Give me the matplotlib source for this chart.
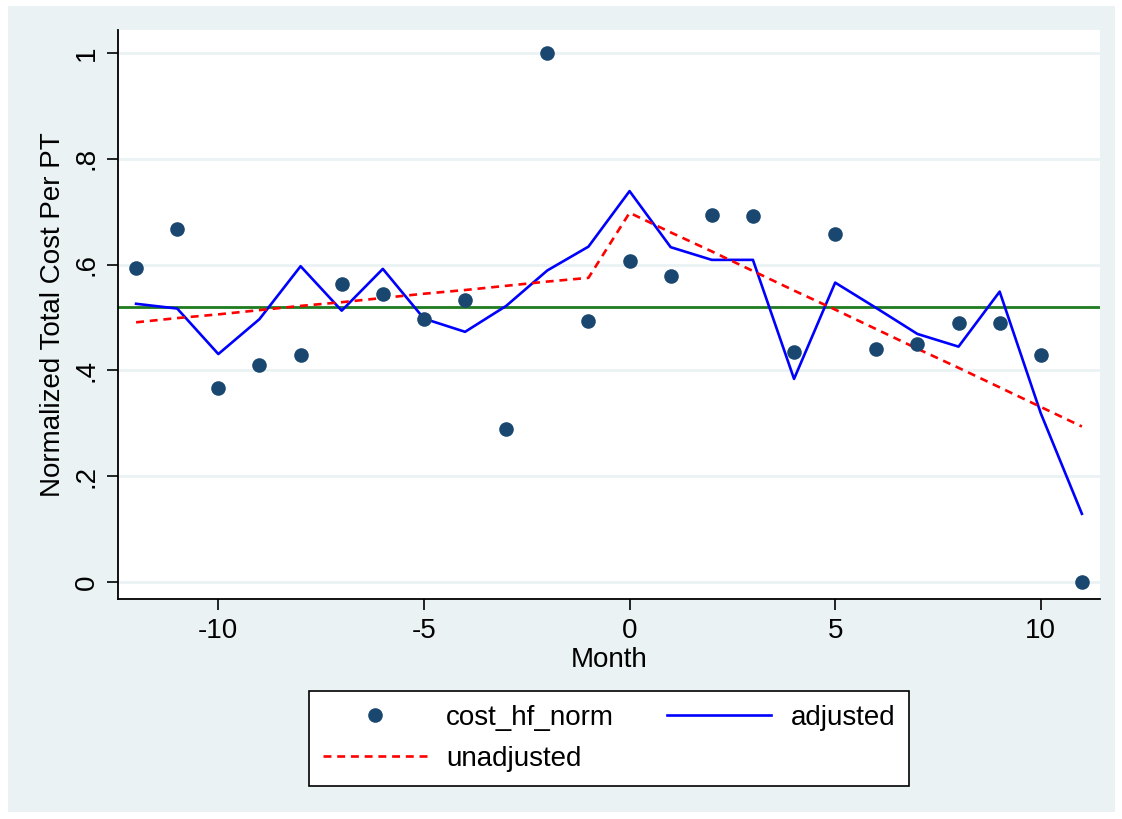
import matplotlib

matplotlib.use("Agg")
import matplotlib.patches as mpatches  # noqa: E402
import matplotlib.pyplot as plt  # noqa: E402

plt.rcParams["font.family"] = ["Liberation Sans", "DejaVu Sans"]

# data
MONTHS = list(range(-12, 12))
COST_HF_NORM = [0.594, 0.667, 0.367, 0.411, 0.430, 0.563, 0.544, 0.498, 0.534, 0.290, 1.000, 0.493,
                0.607, 0.578, 0.693, 0.691, 0.435, 0.658, 0.440, 0.450, 0.490, 0.490, 0.430, 0.000]
ADJUSTED = [0.526, 0.517, 0.431, 0.497, 0.597, 0.513, 0.592, 0.498, 0.473, 0.522, 0.589, 0.634,
            0.739, 0.633, 0.609, 0.609, 0.384, 0.566, 0.518, 0.469, 0.445, 0.549, 0.319, 0.129]
UNADJUSTED = [0.491, 0.499, 0.506, 0.514, 0.522, 0.529, 0.537, 0.545, 0.552, 0.560, 0.568, 0.575,
              0.698, 0.661, 0.625, 0.588, 0.551, 0.515, 0.478, 0.441, 0.405, 0.368, 0.331, 0.294]
MEAN_LEVEL = 0.520
YTICKS = [0, 0.2, 0.4, 0.6, 0.8, 1.0]
YTICKLABELS = ["0", ".2", ".4", ".6", ".8", "1"]
XTICKS = [-10, -5, 0, 5, 10]

BG = "#eaf2f3"
FS = 20

fig = plt.figure(figsize=(11.22, 8.19), dpi=100, facecolor="white")
fig.patches.append(
    mpatches.Rectangle((8 / 1122, 7 / 819), 1107 / 1122, 806 / 819,
                       transform=fig.transFigure, facecolor=BG, edgecolor="none", zorder=-10)
)
ax = fig.add_axes([118 / 1122, 1 - 599 / 819, 982 / 1122, 569 / 819])
ax.set_facecolor("white")

for y in YTICKS:
    ax.axhline(y, color=BG, lw=2, zorder=0)
ax.axhline(MEAN_LEVEL, color="#1e7b1e", lw=2, zorder=2)

sc, = ax.plot(MONTHS, COST_HF_NORM, "o", color="#1a476f", ms=10.5, mec="none", zorder=4)
adj, = ax.plot(MONTHS, ADJUSTED, color="#0000ff", lw=1.9, zorder=3)
unadj, = ax.plot(MONTHS, UNADJUSTED, color="#ff0000", lw=1.9, ls=(0, (3, 2.2)), zorder=3)

ax.set_xlim(-12.44, 11.44)
ax.set_ylim(-0.032, 1.0435)
ax.set_xticks(XTICKS)
ax.set_xticklabels([str(x) for x in XTICKS], fontsize=FS)
ax.set_yticks(YTICKS)
ax.set_yticklabels(YTICKLABELS, fontsize=FS, rotation=90, va="center")
ax.tick_params(axis="x", length=8, width=1.2, pad=6)
ax.tick_params(axis="y", length=8, width=1.2, pad=5)
for s in ("top", "right"):
    ax.spines[s].set_visible(False)
for s in ("left", "bottom"):
    ax.spines[s].set_linewidth(1.3)
ax.set_xlabel("Month", fontsize=FS, labelpad=2)
ax.set_ylabel("Normalized Total Cost Per PT", fontsize=FS, labelpad=6)

leg = fig.legend(
    [sc, unadj, adj],
    ["cost_hf_norm", "unadjusted", "adjusted"],
    ncol=2,
    loc="center",
    bbox_to_anchor=(609 / 1122, 1 - 738.5 / 819),
    fontsize=FS,
    frameon=True,
    fancybox=False,
    edgecolor="black",
    facecolor="white",
    framealpha=1,
    handlelength=3.75,
    handletextpad=0.7,
    columnspacing=1.9,
    labelspacing=0.55,
    borderpad=0.5,
)
leg.get_frame().set_linewidth(1.2)

fig.savefig("out.png", dpi=100, facecolor="white")
